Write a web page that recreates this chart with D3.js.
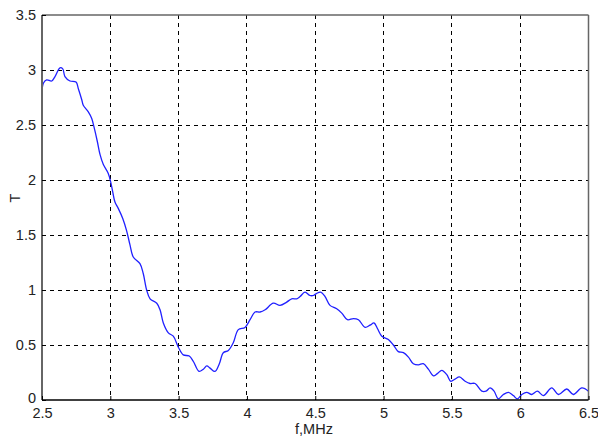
<!DOCTYPE html>
<html><head><meta charset="utf-8">
<script src="https://cdn.jsdelivr.net/npm/d3@7/dist/d3.min.js"></script>
<style>body{margin:0;background:#fff}svg{display:block;font-family:"Liberation Sans",Arial,sans-serif}</style>
</head><body><svg id="c" width="598" height="441"></svg>
<script>
const freq = [2.500,2.510,2.534,2.571,2.595,2.632,2.652,2.668,2.705,2.749,2.766,2.791,2.802,2.839,2.864,2.881,2.905,2.925,2.949,2.985,3.003,3.018,3.034,3.059,3.091,3.119,3.144,3.168,3.217,3.241,3.266,3.291,3.340,3.364,3.388,3.425,3.461,3.498,3.534,3.578,3.608,3.649,3.681,3.706,3.730,3.766,3.798,3.827,3.864,3.900,3.937,3.986,4.023,4.059,4.096,4.133,4.193,4.242,4.291,4.328,4.365,4.389,4.425,4.462,4.486,4.511,4.540,4.572,4.608,4.657,4.694,4.735,4.779,4.816,4.865,4.901,4.930,4.955,4.987,5.035,5.072,5.108,5.145,5.182,5.218,5.255,5.291,5.328,5.365,5.394,5.426,5.463,5.492,5.523,5.555,5.597,5.633,5.670,5.719,5.750,5.780,5.809,5.840,5.877,5.914,5.950,5.980,6.012,6.048,6.085,6.126,6.170,6.231,6.280,6.341,6.389,6.451,6.500];
const tVals = [2.79,2.88,2.91,2.90,2.94,3.02,3.01,2.94,2.90,2.89,2.83,2.73,2.68,2.62,2.56,2.48,2.35,2.23,2.14,2.06,1.98,1.89,1.80,1.74,1.65,1.54,1.41,1.30,1.24,1.15,1.00,0.92,0.88,0.82,0.70,0.61,0.58,0.48,0.41,0.40,0.35,0.26,0.28,0.31,0.29,0.26,0.33,0.43,0.45,0.52,0.64,0.66,0.73,0.80,0.80,0.82,0.88,0.86,0.89,0.92,0.92,0.94,0.98,0.95,0.95,0.97,0.98,0.94,0.86,0.83,0.79,0.73,0.74,0.73,0.66,0.68,0.70,0.65,0.58,0.55,0.50,0.44,0.43,0.39,0.33,0.32,0.33,0.28,0.22,0.24,0.27,0.23,0.17,0.19,0.21,0.17,0.15,0.15,0.08,0.08,0.11,0.08,0.01,0.05,0.07,0.04,0.01,0.05,0.07,0.05,0.08,0.04,0.11,0.05,0.10,0.05,0.11,0.08];
const xTicks = [2.5,3,3.5,4,4.5,5,5.5,6,6.5];
const yTicks = [0,0.5,1,1.5,2,2.5,3,3.5];
const xLabel = "f,MHz";
const yLabel = "T";

const svg = d3.select("#c");
const L = 42, R = 588.5, T = 15, B = 400;
const FS = 14.5;
const x = d3.scaleLinear().domain([2.5,6.5]).range([L,R]);
const y = d3.scaleLinear().domain([0,3.5]).range([B,T]);

// grid
const g = svg.append("g");
g.selectAll(".vg").data(xTicks.slice(1,-1)).enter().append("line")
  .attr("x1",d=>x(d)).attr("x2",d=>x(d)).attr("y1",T).attr("y2",B)
  .attr("stroke","#000").attr("stroke-width",1).attr("stroke-dasharray","4,4").attr("shape-rendering","crispEdges");
g.selectAll(".hg").data(yTicks.slice(1,-1)).enter().append("line")
  .attr("x1",L).attr("x2",R).attr("y1",d=>y(d)).attr("y2",d=>y(d))
  .attr("stroke","#000").attr("stroke-width",1).attr("stroke-dasharray","4,4").attr("shape-rendering","crispEdges");

// curve
const line = d3.line().x((d,i)=>x(freq[i])).y(d=>y(d)).curve(d3.curveCatmullRom.alpha(0.5));
svg.append("path").datum(tVals).attr("d",line).attr("fill","none")
  .attr("stroke","#2020ff").attr("stroke-width",1.3);

// frame
svg.append("line").attr("x1",L).attr("x2",R).attr("y1",T).attr("y2",T).attr("stroke","#666").attr("stroke-width",1.5);
svg.append("line").attr("x1",R).attr("x2",R).attr("y1",T).attr("y2",B).attr("stroke","#666").attr("stroke-width",1.5);
svg.append("line").attr("x1",L).attr("x2",L).attr("y1",T).attr("y2",B).attr("stroke","#666").attr("stroke-width",2);
svg.append("line").attr("x1",L).attr("x2",R).attr("y1",B).attr("y2",B).attr("stroke","#000").attr("stroke-width",1.5);

// axes
const xa = svg.append("g").attr("transform",`translate(0,${B})`)
  .call(d3.axisBottom(x).tickValues(xTicks).tickFormat(d3.format("")).tickSizeInner(-4).tickSizeOuter(0).tickPadding(8));
const ya = svg.append("g").attr("transform",`translate(${L},0)`)
  .call(d3.axisLeft(y).tickValues(yTicks).tickFormat(d3.format("")).tickSizeInner(-4).tickSizeOuter(0).tickPadding(6));
[xa,ya].forEach(a=>{
  a.select(".domain").remove();
  a.selectAll(".tick line").attr("stroke","#000");
  a.selectAll("text").attr("font-size",FS).attr("fill","#222").attr("font-family","Liberation Sans, Arial, sans-serif");
});
ya.selectAll(".tick text").filter(d=>d===0).attr("dy","0.15em");

svg.append("text").attr("x",314).attr("y",434).attr("text-anchor","middle")
  .attr("font-size",FS).attr("fill","#222").text(xLabel);
svg.append("text").attr("transform","translate(20,198) rotate(-90)").attr("text-anchor","middle")
  .attr("font-size",FS).attr("fill","#222").text(yLabel);
</script></body></html>
